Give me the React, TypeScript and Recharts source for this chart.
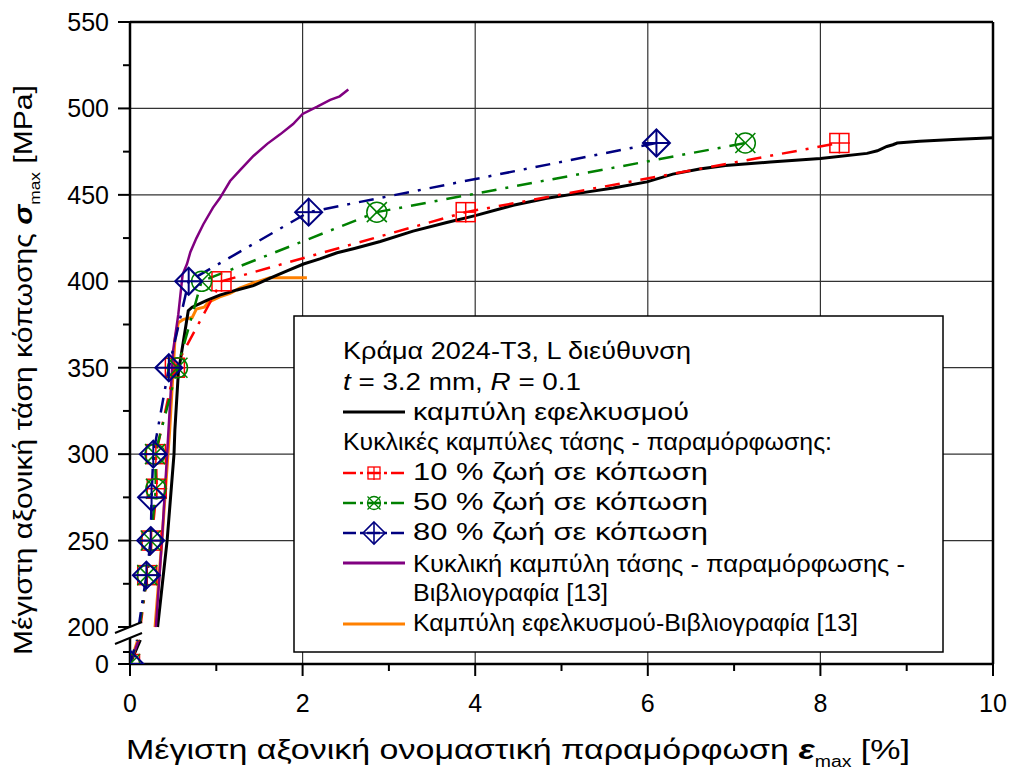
import React from 'react';
import { LineChart, Line, XAxis, YAxis, CartesianGrid } from 'recharts';

const FONT = '"Liberation Sans", Arial, Helvetica, sans-serif';

// The stress axis is broken: a short 0–100 MPa segment sits below the 200–550 MPa range.
const LOWER_TOP = 100;
const AXIS_ZERO = 178.6;
const LOWER_SPAN = 13.9;
const BREAK_MARK = 197.1;
const onAxis = (s: number) => (s >= 200 ? s : AXIS_ZERO + (s / LOWER_TOP) * LOWER_SPAN);

// Axis ticks
const strainTicks = [0, 1, 2, 3, 4, 5, 6, 7, 8, 9, 10];
const strainLabelTicks = [0, 2, 4, 6, 8, 10];
const strainGrid = [2, 4, 6, 8];
const stressLabelTicks = [200, 250, 300, 350, 400, 450, 500, 550];
const stressMinorTicks = [225, 275, 325, 375, 425, 475, 525];
const lowerLabelTicks = [0];
const lowerMinorTicks = [50];
const stressGrid = [250, 300, 350, 400, 450, 500];

// Monotonic tensile curve of 2024-T3, L direction
const tensileStrain = [0, 0.12, 0.32, 0.43, 0.51, 0.52, 0.56, 0.675, 0.72, 0.89, 1.04, 1.24, 1.43, 1.63, 1.82, 2.01, 2.2, 2.4, 2.6, 2.9, 3.28, 3.67, 4.0, 4.44, 4.83, 5.21, 5.6, 5.99, 6.29, 6.6, 6.9, 7.42, 8.0, 8.54, 8.66, 8.77, 8.84, 8.89, 9.15, 9.54, 10];
const tensileStress = [0, 100, 200, 250, 300, 314, 347, 383, 385, 389, 392, 395, 397.5, 402, 406, 410, 413, 416.5, 419, 423, 429, 434, 438, 444, 448, 451, 454, 457.5, 462, 465, 467, 469, 471, 474, 475.5, 478, 479, 480, 481, 482, 483];

// Cyclic stress-strain points at 10 %, 50 % and 80 % of fatigue life
const life10Strain = [0, 0.1, 0.12, 0.2, 0.25, 0.31, 0.3, 0.52, 1.06, 3.89, 8.22];
const life10Stress = [0, 100, 200, 230, 250, 280, 300, 350, 400, 440, 480];
const life10Tested = [true, false, false, true, true, true, true, true, true, true, true];

const life50Strain = [0, 0.09, 0.11, 0.2, 0.24, 0.3, 0.29, 0.55, 0.83, 2.86, 7.13];
const life50Stress = [0, 100, 200, 230, 250, 280, 300, 350, 400, 440, 480];
const life50Tested = [true, false, false, true, true, true, true, true, true, true, true];

const life80Strain = [0, 0.08, 0.1, 0.19, 0.24, 0.25, 0.27, 0.45, 0.68, 2.07, 6.1];
const life80Stress = [0, 100, 200, 230, 250, 275, 300, 350, 400, 440, 480];
const life80Tested = [true, false, false, true, true, true, true, true, true, true, true];

// Literature [13]: cyclic stress-strain curve
const litCyclicStrain = [0, 0.1, 0.3, 0.37, 0.43, 0.5, 0.56, 0.61, 0.66, 0.7, 0.77, 0.85, 0.96, 1.04, 1.16, 1.27, 1.43, 1.59, 1.74, 1.89, 2.0, 2.17, 2.32, 2.43, 2.53];
const litCyclicStress = [0, 100, 200, 250, 300, 360, 381, 404, 410, 417, 425, 433, 442.5, 448, 458, 464, 472.5, 479.5, 485, 491, 496.8, 501, 505, 507, 511];

// Literature [13]: tensile curve
const litTensileStrain = [0, 0.09, 0.29, 0.37, 0.44, 0.46, 0.49, 0.52, 0.56, 0.62, 0.72, 0.77, 0.86, 0.91, 1.04, 1.16, 1.27, 1.43, 1.62, 2.05];
const litTensileStress = [0, 100, 200, 250, 300, 314, 340, 366, 376, 378, 379, 384, 385, 388, 391, 393, 396, 399, 402, 402];

type Pt = { x: number; y: number | null; m: boolean };

// Maps stresses onto the broken axis and leaves a gap where a curve crosses the break
function buildSeries(strain: number[], stress: number[], tested?: boolean[]): Pt[] {
  const out: Pt[] = [];
  for (let i = 0; i < strain.length; i++) {
    if (i > 0 && stress[i - 1] < 200 && stress[i] >= 200) {
      out.push({ x: (strain[i - 1] + strain[i]) / 2, y: null, m: false });
    }
    out.push({ x: strain[i], y: onAxis(stress[i]), m: tested ? tested[i] : false });
  }
  return out;
}

const tensileData = buildSeries(tensileStrain, tensileStress);
const life10Data = buildSeries(life10Strain, life10Stress, life10Tested);
const life50Data = buildSeries(life50Strain, life50Stress, life50Tested);
const life80Data = buildSeries(life80Strain, life80Stress, life80Tested);
const litCyclicData = buildSeries(litCyclicStrain, litCyclicStress);
const litTensileData = buildSeries(litTensileStrain, litTensileStress);

type TickInfo = { kind: 'major' | 'minor' | 'break'; label?: string };
const stressTickInfo = new Map<number, TickInfo>();
stressLabelTicks.forEach((v) => stressTickInfo.set(onAxis(v), { kind: 'major', label: String(v) }));
lowerLabelTicks.forEach((v) => stressTickInfo.set(onAxis(v), { kind: 'major', label: String(v) }));
stressMinorTicks.forEach((v) => stressTickInfo.set(onAxis(v), { kind: 'minor' }));
lowerMinorTicks.forEach((v) => stressTickInfo.set(onAxis(v), { kind: 'minor' }));
stressTickInfo.set(BREAK_MARK, { kind: 'break' });
const stressAxisTicks = Array.from(stressTickInfo.keys()).sort((a, b) => a - b);

const RED = '#ff0000';
const GREEN = '#008000';
const NAVY = '#000080';
const PURPLE = '#800080';
const ORANGE = '#ff8000';
const DASH_DOT = '15 9 3 9';

type Shape = 'square' | 'circle' | 'diamond';

function Marker({ cx, cy, shape, color, r, sw }: { cx: number; cy: number; shape: Shape; color: string; r: number; sw: number }) {
  if (shape === 'square') {
    return (
      <g stroke={color} strokeWidth={sw} fill="none">
        <rect x={cx - r} y={cy - r} width={2 * r} height={2 * r} />
        <line x1={cx - r} y1={cy} x2={cx + r + 1} y2={cy} />
        <line x1={cx} y1={cy - r} x2={cx} y2={cy + r + 1} />
      </g>
    );
  }
  if (shape === 'circle') {
    const k = r * 1.0;
    return (
      <g stroke={color} strokeWidth={sw} fill="none">
        <circle cx={cx} cy={cy} r={r} />
        <line x1={cx - k} y1={cy - k} x2={cx + k} y2={cy + k} />
        <line x1={cx - k} y1={cy + k} x2={cx + k} y2={cy - k} />
      </g>
    );
  }
  return (
    <g stroke={color} strokeWidth={sw} fill="none">
      <polygon points={`${cx},${cy - r} ${cx + r},${cy} ${cx},${cy + r} ${cx - r},${cy}`} />
      <line x1={cx - r} y1={cy} x2={cx + r} y2={cy} />
      <line x1={cx} y1={cy - r} x2={cx} y2={cy + r} />
    </g>
  );
}

const makeDot = (shape: Shape, color: string, r: number, sw: number) => (props: any) => {
  const { cx, cy, payload, index } = props;
  if (!payload || !payload.m || cx == null || cy == null) return <g key={`dot-${index}`} />;
  return (
    <g key={`dot-${index}`}>
      <Marker cx={cx} cy={cy} shape={shape} color={color} r={r} sw={sw} />
    </g>
  );
};

function StrainTick(props: any) {
  const { x, y, payload, side } = props;
  const v = payload.value as number;
  const major = strainLabelTicks.includes(v);
  const len = major ? 12 : 7;
  const dir = side === 'bottom' ? 1 : -1;
  return (
    <g>
      <line x1={x} y1={y} x2={x} y2={y + dir * len} stroke="#000" strokeWidth={2} />
      {side === 'bottom' && major && (
        <text x={x} y={y + 48} textAnchor="middle" fontSize={25} fontFamily={FONT} fill="#000">
          {v}
        </text>
      )}
    </g>
  );
}

function StressTick(props: any) {
  const { x, y, payload, side } = props;
  const info = stressTickInfo.get(payload.value);
  if (!info) return <g />;
  const dir = side === 'left' ? -1 : 1;
  if (info.kind === 'break') {
    const a = side === 'left' ? -15 : -12;
    const b = 12;
    return (
      <g>
        <polygon points={`${x + a},${y + 1} ${x + b},${y - 10} ${x + b},${y + 1} ${x + a},${y + 12}`} fill="#fff" />
        <line x1={x + a} y1={y + 1} x2={x + b} y2={y - 10} stroke="#000" strokeWidth={2} />
        <line x1={x + a} y1={y + 12} x2={x + b} y2={y + 1} stroke="#000" strokeWidth={2} />
      </g>
    );
  }
  const len = info.kind === 'major' ? 12 : 7;
  return (
    <g>
      <line x1={x} y1={y} x2={x + dir * len} y2={y} stroke="#000" strokeWidth={2} />
      {side === 'left' && info.label && (
        <text x={x - 21} y={y + 9} textAnchor="end" fontSize={25} fontFamily={FONT} fill="#000">
          {info.label}
        </text>
      )}
    </g>
  );
}

function XTitle(props: any) {
  const vb = props.viewBox || { x: 130, y: 664 };
  return (
    <text x={vb.x - 4} y={vb.y + 95} fontSize={28} fontFamily={FONT} fill="#000" textLength={784} lengthAdjust="spacingAndGlyphs">
      Μέγιστη αξονική ονομαστική παραμόρφωση{' '}
      <tspan fontStyle="italic" fontWeight="bold">ε</tspan>
      <tspan fontSize={16} dy={8}>max</tspan>
      <tspan dy={-8}> [%]</tspan>
    </text>
  );
}

function YTitle(props: any) {
  const vb = props.viewBox || { x: 0, y: 22, height: 642 };
  const bx = 32;
  const by = vb.y + vb.height - 9;
  return (
    <text x={bx} y={by} transform={`rotate(-90, ${bx}, ${by})`} fontSize={26} fontFamily={FONT} fill="#000" textLength={570} lengthAdjust="spacingAndGlyphs">
      Μέγιστη αξονική τάση κόπωσης{' '}
      <tspan fontStyle="italic" fontWeight="bold">σ</tspan>
      <tspan fontSize={15} dy={8}>max</tspan>
      <tspan dy={-8}> [MPa]</tspan>
    </text>
  );
}

// Legend rows: baseline offset and rendered width inside the box
function LegendBox() {
  const tx = 50;
  const ex = 120;
  const fs = 23;
  const row = (x: number, y: number, w: number, content: React.ReactNode) => (
    <text x={x} y={y} textLength={w} lengthAdjust="spacingAndGlyphs">
      {content}
    </text>
  );
  const sample = (y: number, color: string, dashed: boolean, shape?: Shape, r?: number, sw?: number) => (
    <g>
      <line x1={50} y1={y} x2={112} y2={y} stroke={color} strokeWidth={dashed ? 2.5 : 3} strokeDasharray={dashed ? '13 4 3 4' : undefined} />
      {shape && <Marker cx={81} cy={y} shape={shape} color={color} r={r || 6} sw={sw || 1.3} />}
    </g>
  );
  return (
    <svg width={652} height={339} style={{ position: 'absolute', left: 293, top: 315 }}>
      <rect x={1} y={1} width={649} height={336} fill="#fff" stroke="#000" strokeWidth={1.5} />
      <g fontFamily={FONT} fontSize={fs} fill="#000">
        {row(tx, 44, 348, 'Κράμα 2024-T3, L διεύθυνση')}
        {row(tx, 75, 238, <>
          <tspan fontStyle="italic">t</tspan> = 3.2 mm, <tspan fontStyle="italic">R</tspan> = 0.1
        </>)}
        {row(ex, 105, 276, 'καμπύλη εφελκυσμού')}
        {row(tx, 135, 489, 'Κυκλικές καμπύλες τάσης - παραμόρφωσης:')}
        {row(ex, 165, 295, '10 % ζωή σε κόπωση')}
        {row(ex, 195, 295, '50 % ζωή σε κόπωση')}
        {row(ex, 225, 295, '80 % ζωή σε κόπωση')}
        {row(ex, 257, 492, 'Κυκλική καμπύλη τάσης - παραμόρφωσης -')}
        {row(ex, 286, 195, 'Βιβλιογραφία [13]')}
        {row(ex, 316, 445, 'Καμπύλη εφελκυσμού-Βιβλιογραφία [13]')}
      </g>
      {sample(97, '#000', false)}
      {sample(158, RED, true, 'square', 6, 1.3)}
      {sample(188, GREEN, true, 'circle', 6.5, 1.3)}
      {sample(218, NAVY, true, 'diamond', 11, 1.6)}
      {sample(248, PURPLE, false)}
      {sample(309, ORANGE, false)}
    </svg>
  );
}

export default function App() {
  return (
    <div style={{ position: 'absolute', left: 0, top: 0, width: 1011, height: 773, background: '#fff', fontFamily: FONT }}>
      <LineChart width={1011} height={773} margin={{ top: 0, right: 0, bottom: 0, left: 0 }}>
        <CartesianGrid
          xAxisId="b"
          yAxisId="l"
          stroke="#333"
          strokeWidth={1.2}
          verticalValues={strainGrid}
          horizontalValues={stressGrid.map(onAxis)}
        />
        <XAxis
          xAxisId="b"
          dataKey="x"
          type="number"
          domain={[0, 10]}
          allowDataOverflow
          ticks={strainTicks}
          interval={0}
          height={109}
          tickSize={0}
          tickMargin={0}
          tickLine={false}
          axisLine={{ stroke: '#000', strokeWidth: 2.5 }}
          tick={<StrainTick side="bottom" />}
          label={(p: any) => <XTitle {...p} />}
        />
        <XAxis
          xAxisId="t"
          orientation="top"
          type="number"
          domain={[0, 10]}
          ticks={strainTicks}
          interval={0}
          height={22}
          tickSize={0}
          tickMargin={0}
          tickLine={false}
          axisLine={{ stroke: '#000', strokeWidth: 2.5 }}
          tick={<StrainTick side="top" />}
        />
        <YAxis
          yAxisId="l"
          type="number"
          domain={[AXIS_ZERO, 550]}
          allowDataOverflow
          ticks={stressAxisTicks}
          interval={0}
          width={130}
          tickSize={0}
          tickMargin={0}
          tickLine={false}
          axisLine={{ stroke: '#000', strokeWidth: 2.5 }}
          tick={<StressTick side="left" />}
          label={(p: any) => <YTitle {...p} />}
        />
        <YAxis
          yAxisId="r"
          orientation="right"
          type="number"
          domain={[AXIS_ZERO, 550]}
          ticks={stressAxisTicks}
          interval={0}
          width={18}
          tickSize={0}
          tickMargin={0}
          tickLine={false}
          axisLine={{ stroke: '#000', strokeWidth: 2.5 }}
          tick={<StressTick side="right" />}
        />
        <Line xAxisId="b" yAxisId="l" data={litTensileData} dataKey="y" type="linear" stroke={ORANGE} strokeWidth={3} dot={false} activeDot={false} isAnimationActive={false} />
        <Line xAxisId="b" yAxisId="l" data={tensileData} dataKey="y" type="linear" stroke="#000" strokeWidth={3} dot={false} activeDot={false} isAnimationActive={false} />
        <Line xAxisId="b" yAxisId="l" data={litCyclicData} dataKey="y" type="linear" stroke={PURPLE} strokeWidth={2.5} dot={false} activeDot={false} isAnimationActive={false} />
        <Line xAxisId="b" yAxisId="l" data={life10Data} dataKey="y" type="linear" stroke={RED} strokeWidth={2.5} strokeDasharray={DASH_DOT} dot={makeDot('square', RED, 9.5, 1.5)} activeDot={false} isAnimationActive={false} />
        <Line xAxisId="b" yAxisId="l" data={life50Data} dataKey="y" type="linear" stroke={GREEN} strokeWidth={2.5} strokeDasharray={DASH_DOT} dot={makeDot('circle', GREEN, 10, 1.5)} activeDot={false} isAnimationActive={false} />
        <Line xAxisId="b" yAxisId="l" data={life80Data} dataKey="y" type="linear" stroke={NAVY} strokeWidth={2.5} strokeDasharray={DASH_DOT} dot={makeDot('diamond', NAVY, 13.5, 2)} activeDot={false} isAnimationActive={false} />
      </LineChart>
      <LegendBox />
    </div>
  );
}
